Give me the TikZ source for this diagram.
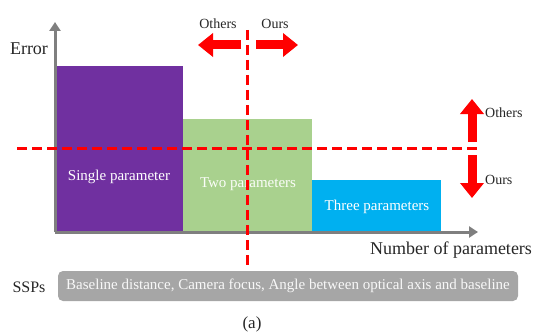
\documentclass[tikz,border=0pt]{standalone}
\usepackage{fontspec}
\setmainfont{Liberation Serif}
\usetikzlibrary{arrows.meta}
\definecolor{barpurple}{HTML}{7030A0}
\definecolor{bargreen}{HTML}{A9D18E}
\definecolor{barblue}{HTML}{00B0F0}
\definecolor{axisgray}{HTML}{7F7F7F}
\definecolor{boxgray}{HTML}{A6A6A6}
\definecolor{txtdark}{HTML}{262626}
\tikzset{
  bar/.style={draw=none, inner sep=0pt, anchor=south west},
  bartext/.style={text=white, font=\fontsize{15}{17}\selectfont},
  redline/.style={draw=red, line width=3pt, dash pattern=on 10pt off 5pt},
  blockarrow/.style={draw=red, line width=9pt, -{Triangle[width=23pt,length=15pt]}},
  axis/.style={draw=axisgray, line width=3pt, -{Triangle[width=11pt,length=9pt]}},
  lab/.style={text=txtdark, inner sep=0pt},
  smalllab/.style={lab, font=\fontsize{14}{16}\selectfont},
}
\begin{document}
\begin{tikzpicture}[x=1pt,y=-1pt]
\useasboundingbox (0,0) rectangle (534,334);
% bars
\node[bar, fill=barpurple, minimum width=128pt, minimum height=166pt] (single) at (55,232) {};
\node[bar, fill=bargreen, minimum width=129pt, minimum height=113pt] (two) at (183,232) {};
\node[bar, fill=barblue, minimum width=129pt, minimum height=52pt] (three) at (312,232) {};
\node[bartext] (tsingle) at (119,177) {Single parameter};
\node[bartext, text=white!95!bargreen] (ttwo) at (248,184) {Two parameters};
\node[bartext] (tthree) at (377,207) {Three parameters};
% axes
\coordinate (origin) at (55,232);
\coordinate (ytip) at (55,22);
\coordinate (xtip) at (478,232);
\draw[axis] (origin) -- (ytip);
\draw[axis] (origin) -- (xtip);
\node[lab, font=\fontsize{18}{20}\selectfont] (error) at (29,49) {Error};
\node[lab, font=\fontsize{18}{20}\selectfont] (npar) at (451,250) {Number of parameters};
% red dashed lines
\coordinate (hl) at (17,148);
\coordinate (hr) at (478,148);
\coordinate (vt) at (247,30);
\coordinate (vb) at (247,266);
\draw[redline] (hl) -- (hr);
\draw[redline] (vt) -- (vb);
% horizontal block arrows
\coordinate (la0) at (241,45);
\coordinate (la1) at (198,45);
\coordinate (ra0) at (256,45);
\coordinate (ra1) at (298,45);
\draw[blockarrow] (la0) -- (la1);
\draw[blockarrow] (ra0) -- (ra1);
\node[smalllab] (othersH) at (218,24) {Others};
\node[smalllab] (oursH) at (275,24) {Ours};
% vertical block arrows
\coordinate (ua0) at (472,142);
\coordinate (ua1) at (472,99);
\coordinate (da0) at (472,155);
\coordinate (da1) at (472,198);
\draw[blockarrow] (ua0) -- (ua1);
\draw[blockarrow] (da0) -- (da1);
\node[smalllab, anchor=west] (othersV) at (485,113) {Others};
\node[smalllab, anchor=west] (oursV) at (485,180) {Ours};
% SSPs
\node[lab, font=\fontsize{16}{18}\selectfont] (ssps) at (29,287) {SSPs};
\node[fill=boxgray, rounded corners=5pt, minimum width=460pt, minimum height=30pt, inner sep=0pt,
      text=white!92!boxgray, font=\fontsize{15}{17}\selectfont] (sspbox) at (288,286)
      {Baseline distance, Camera focus, Angle between optical axis and baseline};
\node[lab, font=\fontsize{17}{19}\selectfont] (cap) at (252,324) {(a)};
\end{tikzpicture}
\end{document}
